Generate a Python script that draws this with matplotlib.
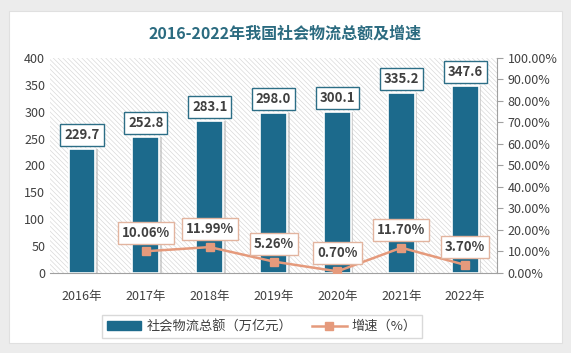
import matplotlib
matplotlib.use("Agg")
import matplotlib.pyplot as plt
from matplotlib.patches import Rectangle, FancyBboxPatch
from matplotlib.lines import Line2D
from matplotlib.ticker import FuncFormatter, MultipleLocator

plt.rcParams['font.family'] = ['Noto Sans CJK SC', 'DejaVu Sans']
plt.rcParams['hatch.linewidth'] = 0.45
plt.rcParams['hatch.color'] = '#d6d6d6'

# 数据
years = ['2016年', '2017年', '2018年', '2019年', '2020年', '2021年', '2022年']
total = [229.7, 252.8, 283.1, 298.0, 300.1, 335.2, 347.6]
growth_years = [1, 2, 3, 4, 5, 6]
growth = [10.06, 11.99, 5.26, 0.70, 11.70, 3.70]

bar_color = '#1c6a8c'
line_color = '#e59a7c'
text_color = '#404040'

fig = plt.figure(figsize=(5.71, 3.53), dpi=100)
fig.patch.set_facecolor('#ececec')
# 白色面板
fig.patches.append(FancyBboxPatch((0.016, 0.028), 0.968, 0.94, boxstyle='square,pad=0',
                                  transform=fig.transFigure, facecolor='white',
                                  edgecolor='#e0e0e0', lw=0.8, zorder=-5))

ax = fig.add_axes([0.0876, 0.227, 0.783, 0.609])
ax.set_xlim(-0.5, 6.5)
ax.set_ylim(0, 400)
ax.add_patch(Rectangle((0, 0), 1, 1, transform=ax.transAxes, facecolor='white',
                       hatch='\\\\\\\\\\\\\\', edgecolor='#d6d6d6', lw=0, zorder=0))

x = list(range(len(years)))
# 阴影
ax.bar([i + 0.04 for i in x], total, width=0.42, color='#b8b8b8', alpha=0.6, zorder=1)
ax.bar(x, total, width=0.42, color=bar_color, edgecolor='white', lw=1.2, zorder=2)
for i, v in zip(x, total):
    ax.annotate(f'{v:.1f}', (i, v), xytext=(0, 14), textcoords='offset pixels',
                ha='center', va='center', fontsize=9.5, fontweight='bold', color=text_color,
                bbox=dict(boxstyle='square,pad=0.3', fc='white', ec='#2c6e86', lw=1.0),
                zorder=5)

ax.set_xticks(x)
ax.set_xticklabels(years, fontsize=9, color=text_color)
ax.yaxis.set_major_locator(MultipleLocator(50))
ax.tick_params(axis='y', labelsize=9, colors=text_color, length=0)
ax.tick_params(axis='x', length=0, pad=12)
for s in ['top', 'right', 'left']:
    ax.spines[s].set_visible(False)
ax.spines['bottom'].set_color('#a0a0a0')

ax2 = ax.twinx()
ax2.set_ylim(0, 100)
ax2.yaxis.set_major_locator(MultipleLocator(10))
ax2.yaxis.set_major_formatter(FuncFormatter(lambda v, p: f'{v:.2f}%'))
ax2.tick_params(axis='y', labelsize=9, colors=text_color, length=4, color='#a0a0a0')
for s in ['top', 'left', 'bottom']:
    ax2.spines[s].set_visible(False)
ax2.spines['right'].set_color('#a0a0a0')
ax2.plot(growth_years, growth, color=line_color, lw=1.8, marker='s', markersize=6,
         zorder=4)
for i, v in zip(growth_years, growth):
    ax2.annotate(f'{v:.2f}%', (i, v), xytext=(0, 18), textcoords='offset pixels',
                 ha='center', va='center', fontsize=9.5, fontweight='bold', color=text_color,
                 bbox=dict(boxstyle='square,pad=0.3', fc='white', ec='#e2b49f', lw=1.0),
                 zorder=5)

fig.text(0.5, 0.905, '2016-2022年我国社会物流总额及增速', ha='center', va='center',
         fontsize=11.5, fontweight='bold', color='#2b6b80')

handles = [Rectangle((0, 0), 1, 1, color=bar_color),
           Line2D([], [], color=line_color, lw=1.8, marker='s', markersize=6)]
fig.legend(handles, ['社会物流总额（万亿元）', '增速（%）'], loc='center',
           bbox_to_anchor=(0.459, 0.075), ncol=2, frameon=True, fancybox=False,
           edgecolor='#d0d0d0', fontsize=9.5, handlelength=2.6, columnspacing=1.5,
           handletextpad=0.4, labelcolor=text_color)

fig.savefig('out.png', dpi=100)
